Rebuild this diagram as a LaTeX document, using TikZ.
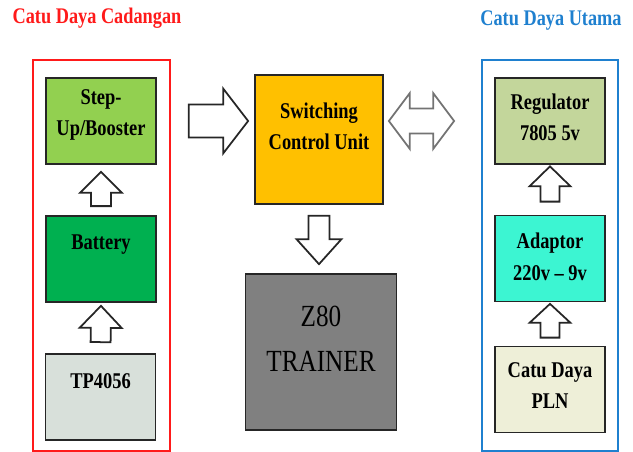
\documentclass[tikz,border=0pt]{standalone}
\usepackage{fontspec}
\setmainfont{Liberation Serif}[FakeStretch=0.82]
\usetikzlibrary{calc}
\definecolor{cadred}{HTML}{FF1A1A}
\definecolor{utablue}{HTML}{1F80CF}
\definecolor{boostgreen}{HTML}{92D050}
\definecolor{batgreen}{HTML}{00B050}
\definecolor{tpgray}{HTML}{D8E0DA}
\definecolor{scuorange}{HTML}{FFC000}
\definecolor{zgray}{HTML}{808080}
\definecolor{regolive}{HTML}{C3D69B}
\definecolor{adpaqua}{HTML}{3CF5D2}
\definecolor{plncream}{HTML}{EEEFD8}

\tikzset{
  blok/.style={draw=black!85,line width=1pt,minimum width=2.2cm,minimum height=1.72cm},
  tulis/.style={font=\bfseries\fontsize{12.8}{18}\selectfont,align=center,anchor=center},
  judul/.style={font=\bfseries\fontsize{12.7}{15}\selectfont},
  wadah/.style={line width=1pt,minimum width=2.74cm,minimum height=7.82cm},
  hollow/.style={draw=black!85,fill=white,line width=1pt},
}

% hollow block arrow: from, to, tail gap, tip gap, shaft half width, head half width, head length
\newcommand\blockarrow[8][]{%
  \path ($(#2)!#4!(#3)$) coordinate (ba-t) ($(#3)!#5!(#2)$) coordinate (ba-p);
  \path ($(ba-p)!#8!(ba-t)$) coordinate (ba-h);
  \draw[hollow,#1] ($(ba-t)!#6!90:(ba-p)$) -- ($(ba-h)!#6!90:(ba-p)$) -- ($(ba-h)!#7!90:(ba-p)$)
    -- (ba-p) -- ($(ba-h)!#7!-90:(ba-p)$) -- ($(ba-h)!#6!-90:(ba-p)$) -- ($(ba-t)!#6!-90:(ba-p)$) -- cycle;}
% same with a head at both ends
\newcommand\doublearrow[8][]{%
  \path ($(#2)!#4!(#3)$) coordinate (ba-t) ($(#3)!#5!(#2)$) coordinate (ba-p);
  \path ($(ba-p)!#8!(ba-t)$) coordinate (ba-h) ($(ba-t)!#8!(ba-p)$) coordinate (ba-g);
  \draw[hollow,#1] (ba-t) -- ($(ba-g)!#7!90:(ba-p)$) -- ($(ba-g)!#6!90:(ba-p)$) -- ($(ba-h)!#6!90:(ba-p)$)
    -- ($(ba-h)!#7!90:(ba-p)$) -- (ba-p) -- ($(ba-h)!#7!-90:(ba-p)$) -- ($(ba-h)!#6!-90:(ba-p)$)
    -- ($(ba-g)!#6!-90:(ba-p)$) -- ($(ba-g)!#7!-90:(ba-p)$) -- cycle;}

\begin{document}
\begin{tikzpicture}[x=0.02cm,y=-0.02cm]
	\useasboundingbox (0,0) rectangle (633,452);
	% titles and the two supplies
	\node[judul,text=cadred] (tcad) at (97,18) {Catu Daya Cadangan};
	\node[judul,text=utablue] (tuta) at (551,21) {Catu Daya Utama};
	\node[wadah,draw=cadred] (cadangan) at (101.5,255.5) {};
	\node[wadah,draw=utablue,minimum width=2.72cm] (utama) at (550,255.5) {};
	% backup side
	\node[blok,fill=boostgreen,label={[tulis,shift={(0,38)}]90:Step-\\Up/Booster}] (booster) at (101,121) {};
	\node[blok,fill=batgreen,label={[tulis,shift={(0,29)}]90:Battery}] (bat) at (101,259) {};
	\node[blok,fill=tpgray,label={[tulis,shift={(0,28)}]90:TP4056}] (tp) at (100.5,397) {};
	% middle
	\node[blok,fill=scuorange,minimum width=2.56cm,minimum height=2.58cm,
		label={[tulis,shift={(0,52)}]90:Switching\\Control Unit}] (scu) at (319,139.5) {};
	\node[blok,fill=zgray,minimum width=3.02cm,minimum height=3.12cm,
		label={[tulis,font=\fontsize{17.5}{25.5}\selectfont,shift={(0,66)}]90:Z80\\TRAINER}] (z80) at (321,352) {};
	% main side
	\node[blok,fill=regolive,label={[tulis,shift={(0,40)}]90:Regulator\\7805 5v}] (reg) at (550,121) {};
	\node[blok,fill=adpaqua,label={[tulis,shift={(0,42)}]90:Adaptor\\220v – 9v}] (adp) at (550,258.5) {};
	\node[blok,fill=plncream,label={[tulis,shift={(0,40)}]90:Catu Daya\\PLN}] (pln) at (550,389.5) {};
	% block arrows
	\blockarrow{bat.north}{booster.south}{1.8mm}{1.4mm}{2mm}{4.2mm}{4.2mm}
	\blockarrow{tp.north}{bat.south}{2.2mm}{0.6mm}{2mm}{4.2mm}{4.4mm}
	\blockarrow{adp.north}{reg.south}{2.6mm}{0.3mm}{1.9mm}{4.1mm}{4mm}
	\blockarrow{pln.north}{adp.south}{1.6mm}{0.3mm}{1.9mm}{4.1mm}{3.8mm}
	\blockarrow{cadangan.east |- booster.east}{scu.west |- booster.east}{3.6mm}{1.2mm}{3.3mm}{6.5mm}{5mm}
	\blockarrow{scu.south}{scu.south |- z80.north}{2.2mm}{1.8mm}{2.1mm}{4.5mm}{5mm}
	\doublearrow[draw=black!55]{scu.east |- reg.west}{utama.west |- reg.west}{1mm}{5.4mm}{2.5mm}{5.6mm}{4.2mm}
\end{tikzpicture}
\end{document}
